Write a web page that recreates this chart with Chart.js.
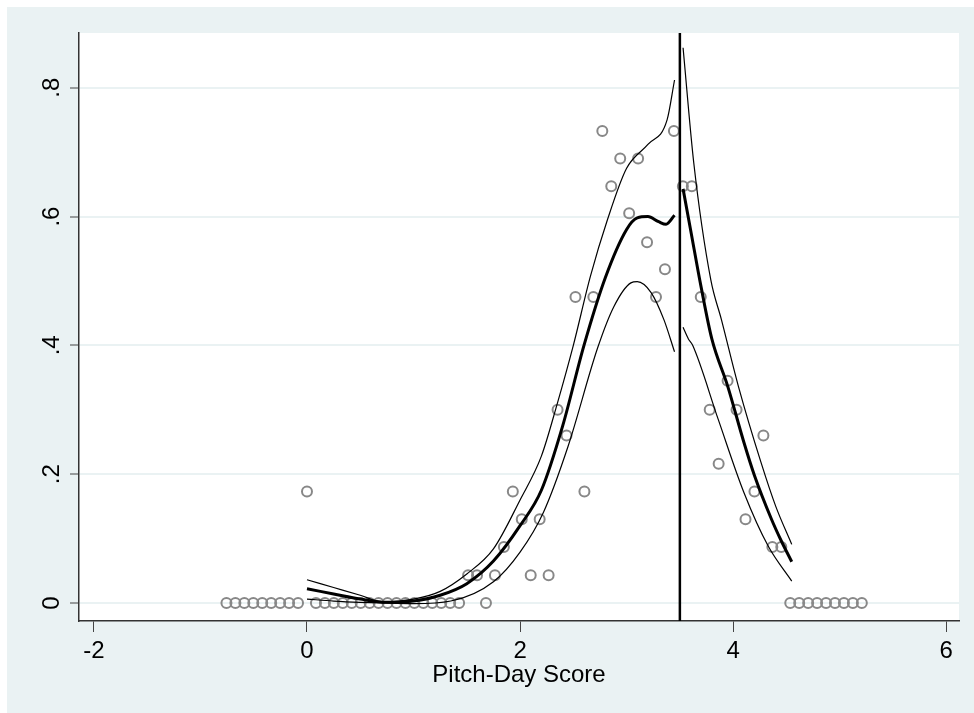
<!DOCTYPE html>
<html lang="en">

<head>
    <meta charset="UTF-8">
    <title>Pitch-Day Score</title>
    <script src="https://cdn.jsdelivr.net/npm/chart.js"></script>
    <style>
        html, body { margin: 0; padding: 0; background: #ffffff; overflow: hidden; }
        #grafico { display: block; }
    </style>
</head>

<body>
    <canvas id="grafico" width="974" height="713"></canvas>

    <script>
        // binned share (circles)
        const binX = [-0.756, -0.672, -0.588, -0.504, -0.42, -0.336, -0.252, -0.168, -0.084,
            0,
            0.084, 0.168, 0.252, 0.336, 0.42, 0.504, 0.588, 0.672, 0.756, 0.84, 0.924, 1.008, 1.092, 1.176, 1.26, 1.344, 1.428,
            1.512, 1.596, 1.68, 1.764, 1.848, 1.932, 2.016, 2.1, 2.184, 2.268, 2.352, 2.436, 2.52, 2.604, 2.688, 2.772,
            2.856, 2.94, 3.024, 3.108, 3.192, 3.276, 3.36, 3.444, 3.528, 3.612, 3.696, 3.78, 3.864, 3.948, 4.032, 4.116,
            4.2, 4.284, 4.368, 4.452,
            4.536, 4.62, 4.704, 4.788, 4.872, 4.956, 5.04, 5.124, 5.208];
        const binShare = [0, 0, 0, 0, 0, 0, 0, 0, 0,
            0.173,
            0, 0, 0, 0, 0, 0, 0, 0, 0, 0, 0, 0, 0, 0, 0, 0, 0,
            0.043, 0.043, 0, 0.043, 0.087, 0.173, 0.13, 0.043, 0.13, 0.043, 0.30, 0.26, 0.475, 0.173, 0.475, 0.733,
            0.647, 0.69, 0.605, 0.69, 0.56, 0.475, 0.518, 0.733, 0.647, 0.647, 0.475, 0.30, 0.216, 0.345, 0.30, 0.13,
            0.173, 0.26, 0.087, 0.087,
            0, 0, 0, 0, 0, 0, 0, 0, 0];

        // fit left of the cutoff
        const leftFitX = [0, 0.25, 0.5, 0.75, 1.0, 1.25, 1.5, 1.75, 2.0, 2.2, 2.4, 2.6, 2.8, 3.0, 3.1, 3.2, 3.3, 3.37, 3.45];
        const leftFit = [0.022, 0.014, 0.006, 0.001, 0.003, 0.012, 0.03, 0.065, 0.12, 0.175, 0.275, 0.40, 0.505, 0.58, 0.598, 0.60, 0.592, 0.588, 0.602];
        const leftHiX = [0, 0.25, 0.5, 0.7, 1.0, 1.25, 1.5, 1.75, 2.0, 2.2, 2.35, 2.5, 2.66, 2.82, 3.0, 3.2, 3.38, 3.45];
        const leftHi = [0.036, 0.024, 0.012, 0.002, 0.006, 0.018, 0.045, 0.084, 0.16, 0.228, 0.31, 0.40, 0.507, 0.595, 0.675, 0.712, 0.75, 0.812];
        const leftLoX = [0, 0.25, 0.5, 0.7, 1.0, 1.35, 1.75, 2.0, 2.22, 2.45, 2.73, 2.88, 3.04, 3.1, 3.23, 3.35, 3.45];
        const leftLo = [0.006, 0.003, 0.001, 0.0, -0.001, 0.003, 0.033, 0.079, 0.141, 0.243, 0.397, 0.46, 0.497, 0.499, 0.482, 0.44, 0.39];

        // fit right of the cutoff
        const rightFitX = [3.53, 3.6, 3.7, 3.8, 3.95, 4.1, 4.2, 4.36, 4.45, 4.55];
        const rightFit = [0.643, 0.58, 0.49, 0.41, 0.336, 0.25, 0.198, 0.13, 0.097, 0.064];
        const rightHiX = [3.53, 3.63, 3.79, 3.89, 4.05, 4.26, 4.4, 4.55];
        const rightHi = [0.862, 0.684, 0.502, 0.44, 0.336, 0.219, 0.15, 0.091];
        const rightLoX = [3.53, 3.58, 3.62, 3.86, 4.1, 4.33, 4.55];
        const rightLo = [0.428, 0.41, 0.40, 0.285, 0.172, 0.088, 0.034];

        const cutoff = 3.5;

        // axes
        const xTicks = [-2, 0, 2, 4, 6];
        const yTicks = [0, 0.2, 0.4, 0.6, 0.8];
        const yTickLabels = ['0', '.2', '.4', '.6', '.8'];
        const xTitle = 'Pitch-Day Score';
        const xMin = -2.14, xMax = 6.12;
        const yMin = -0.028, yMax = 0.885;

        const punti = (xs, ys) => xs.map((x, i) => ({ x: x, y: ys[i] }));

        const sfondoBlu = 'rgb(234,242,243)';
        const fontBase = { family: '"Liberation Sans", Arial, Helvetica, sans-serif', size: 24 };

        // background panel + white plot region
        const sfondo = {
            id: 'sfondo',
            beforeDraw(chart) {
                const c = chart.ctx;
                const a = chart.chartArea;
                c.save();
                c.fillStyle = sfondoBlu;
                c.fillRect(7, 7, chart.width - 7, chart.height - 7);
                c.fillStyle = '#ffffff';
                c.fillRect(a.left, a.top, a.right - a.left, a.bottom - a.top);
                c.restore();
            }
        };

        const linea = (data, w) => ({
            type: 'line',
            data: data,
            borderColor: '#000000',
            borderWidth: w,
            pointRadius: 0,
            fill: false,
            cubicInterpolationMode: 'monotone'
        });

        const ctx = document.getElementById('grafico').getContext('2d');

        const grafico = new Chart(ctx, {
            type: 'scatter',
            data: {
                datasets: [
                    linea([{ x: cutoff, y: yMin }, { x: cutoff, y: yMax }], 2.5),
                    linea(punti(leftFitX, leftFit), 3),
                    linea(punti(leftHiX, leftHi), 1.2),
                    linea(punti(leftLoX, leftLo), 1.2),
                    linea(punti(rightFitX, rightFit), 3),
                    linea(punti(rightHiX, rightHi), 1.2),
                    linea(punti(rightLoX, rightLo), 1.2),
                    {
                        type: 'scatter',
                        data: punti(binX, binShare),
                        pointStyle: 'circle',
                        pointRadius: 5,
                        pointBorderWidth: 2,
                        pointBorderColor: '#888888',
                        pointBackgroundColor: 'rgba(0,0,0,0)'
                    }
                ]
            },
            options: {
                responsive: false,
                animation: false,
                layout: { padding: { top: 33, right: 15, left: 0, bottom: 0 } },
                plugins: { legend: { display: false }, tooltip: { enabled: false } },
                scales: {
                    x: {
                        type: 'linear',
                        position: 'bottom',
                        min: xMin,
                        max: xMax,
                        afterBuildTicks: s => { s.ticks = xTicks.map(v => ({ value: v })); },
                        afterFit: s => { s.height = 92; },
                        grid: { drawOnChartArea: false, tickLength: 11, tickColor: '#444444', tickWidth: 1 },
                        border: { color: '#333333', width: 1.5 },
                        ticks: { color: '#000000', font: fontBase, padding: 5, maxRotation: 0, autoSkip: false },
                        title: { display: true, text: xTitle, color: '#000000', font: fontBase, padding: { top: 0, bottom: 23 } }
                    },
                    y: {
                        type: 'linear',
                        min: yMin,
                        max: yMax,
                        afterBuildTicks: s => { s.ticks = yTicks.map(v => ({ value: v })); },
                        afterFit: s => { s.width = 79; },
                        grid: { color: sfondoBlu, lineWidth: 2, tickLength: 9, tickColor: '#444444', tickWidth: 1 },
                        border: { color: '#333333', width: 1.5 },
                        ticks: {
                            color: '#000000',
                            font: fontBase,
                            padding: 8,
                            minRotation: 90,
                            maxRotation: 90,
                            crossAlign: 'center',
                            autoSkip: false,
                            callback: (v, i) => yTickLabels[i]
                        }
                    }
                }
            },
            plugins: [sfondo]
        });
    </script>
</body>

</html>
